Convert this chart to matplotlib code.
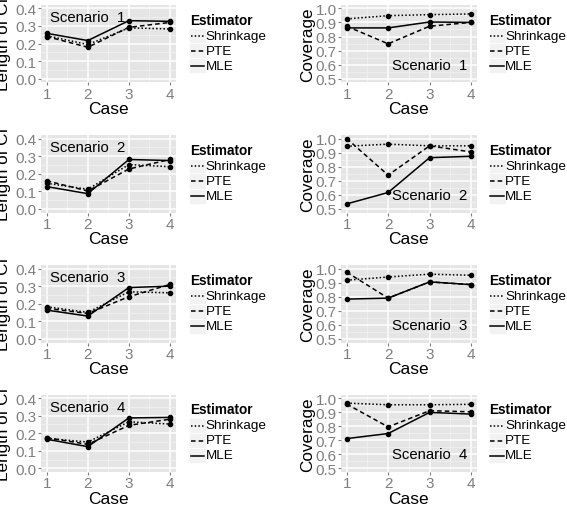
import numpy as np
import matplotlib.pyplot as plt
from matplotlib.lines import Line2D
from matplotlib.patches import Rectangle
from matplotlib.ticker import MultipleLocator

plt.rcParams['font.family'] = ['Liberation Sans', 'DejaVu Sans']

cases = [1, 2, 3, 4]
estimators = ['Shrinkage', 'PTE', 'MLE']
scenarios = ['Scenario  1', 'Scenario  2', 'Scenario  3', 'Scenario  4']

# length of CI, one row per scenario
length_shrinkage = [[0.245, 0.194, 0.289, 0.283],
                    [0.146, 0.112, 0.252, 0.240],
                    [0.183, 0.151, 0.268, 0.262],
                    [0.171, 0.150, 0.265, 0.252]]
length_pte = [[0.240, 0.179, 0.292, 0.320],
              [0.160, 0.102, 0.227, 0.281],
              [0.174, 0.145, 0.240, 0.310],
              [0.175, 0.137, 0.245, 0.280]]
length_mle = [[0.258, 0.217, 0.330, 0.326],
              [0.127, 0.087, 0.281, 0.275],
              [0.164, 0.130, 0.292, 0.300],
              [0.166, 0.124, 0.287, 0.290]]

# coverage, one row per scenario
coverage_shrinkage = [[0.925, 0.948, 0.955, 0.960],
                      [0.945, 0.960, 0.948, 0.948],
                      [0.917, 0.940, 0.960, 0.952],
                      [0.964, 0.952, 0.952, 0.955]]
coverage_pte = [[0.873, 0.748, 0.873, 0.900],
                [1.000, 0.740, 0.948, 0.905],
                [0.974, 0.790, 0.905, 0.886],
                [0.957, 0.795, 0.910, 0.902]]
coverage_mle = [[0.861, 0.861, 0.903, 0.900],
                [0.536, 0.617, 0.864, 0.874],
                [0.783, 0.790, 0.905, 0.886],
                [0.712, 0.748, 0.898, 0.886]]

styles = {'Shrinkage': (0, (1, 1.4)), 'PTE': (0, (3, 2)), 'MLE': '-'}
LW = 1.1

W, H = 567, 506
fig = plt.figure(figsize=(W / 100, H / 100), dpi=100)
fig.patch.set_facecolor('white')


def px_axes(x0, top, w, h):
    return fig.add_axes([x0 / W, 1 - (top + h) / H, w / W, h / H])


def fx(x):
    return x / W


def fy(y):
    return 1 - y / H


def draw_legend(left, top):
    fig.text(fx(left), fy(top + 15), 'Estimator', fontsize=9.8, fontweight='bold',
             ha='left', va='center')
    for i, name in enumerate(estimators):
        yc = top + 31 + 15 * i
        fig.patches.append(Rectangle((fx(left - 1), fy(yc + 7.5)), 17 / W, 15 / H,
                                     transform=fig.transFigure, facecolor='#F2F2F2',
                                     edgecolor='white', lw=0.5))
        fig.add_artist(Line2D([fx(left + 0.5), fx(left + 14)], [fy(yc), fy(yc)],
                              transform=fig.transFigure, color='black', lw=LW,
                              linestyle=styles[name]))
        fig.text(fx(left + 15.8), fy(yc), name, fontsize=9.7, ha='left', va='center')


def style_axes(ax, ylim, major, ylabel, label_x):
    ax.set_facecolor('#E5E5E5')
    for s in ax.spines.values():
        s.set_visible(False)
    ax.set_xlim(0.85, 4.15)
    ax.set_ylim(*ylim)
    ax.set_xticks(cases)
    ax.xaxis.set_minor_locator(MultipleLocator(0.5))
    ax.yaxis.set_major_locator(MultipleLocator(major))
    ax.yaxis.set_minor_locator(MultipleLocator(major / 2))
    ax.yaxis.set_major_formatter(plt.FormatStrFormatter('%.1f'))
    ax.grid(which='major', color='white', lw=1.1)
    ax.grid(which='minor', color='#F2F2F2', lw=0.5)
    ax.set_axisbelow(True)
    ax.tick_params(which='major', length=2.2, width=0.8, color='#7F7F7F',
                   labelcolor='#7F7F7F', labelsize=11, pad=0.6)
    ax.tick_params(axis='x', which='major', pad=1.0)
    ax.tick_params(which='minor', length=0)
    ax.set_xlabel('Case', fontsize=12.5, labelpad=0.2)
    ax.set_ylabel(ylabel, fontsize=12.3)
    ax.yaxis.set_label_coords(label_x, 0.5)


row_tops = [5.8, 136.0, 266.0, 395.5]
panel_h = 77.5

for r in range(4):
    top = row_tops[r]

    ax = px_axes(40.5, top, 135.7, panel_h)
    style_axes(ax, (-0.02, 0.42), 0.1, 'Length of CI', -0.215)
    for name, data in zip(estimators, [length_shrinkage, length_pte, length_mle]):
        ax.plot(cases, data[r], color='black', lw=LW, linestyle=styles[name],
                marker='o', markersize=3.0)
    ax.text(2, 0.35, scenarios[r], ha='center', va='center', fontsize=10.7)
    draw_legend(190, top)

    ax = px_axes(340.5, top, 136.7, panel_h)
    style_axes(ax, (0.475, 1.025), 0.1, 'Coverage', -0.185)
    for name, data in zip(estimators, [coverage_shrinkage, coverage_pte, coverage_mle]):
        ax.plot(cases, data[r], color='black', lw=LW, linestyle=styles[name],
                marker='o', markersize=3.0)
    ax.text(3, 0.6, scenarios[r], ha='center', va='center', fontsize=10.7)
    draw_legend(489.5, top)

fig.savefig('out.png', dpi=100)
